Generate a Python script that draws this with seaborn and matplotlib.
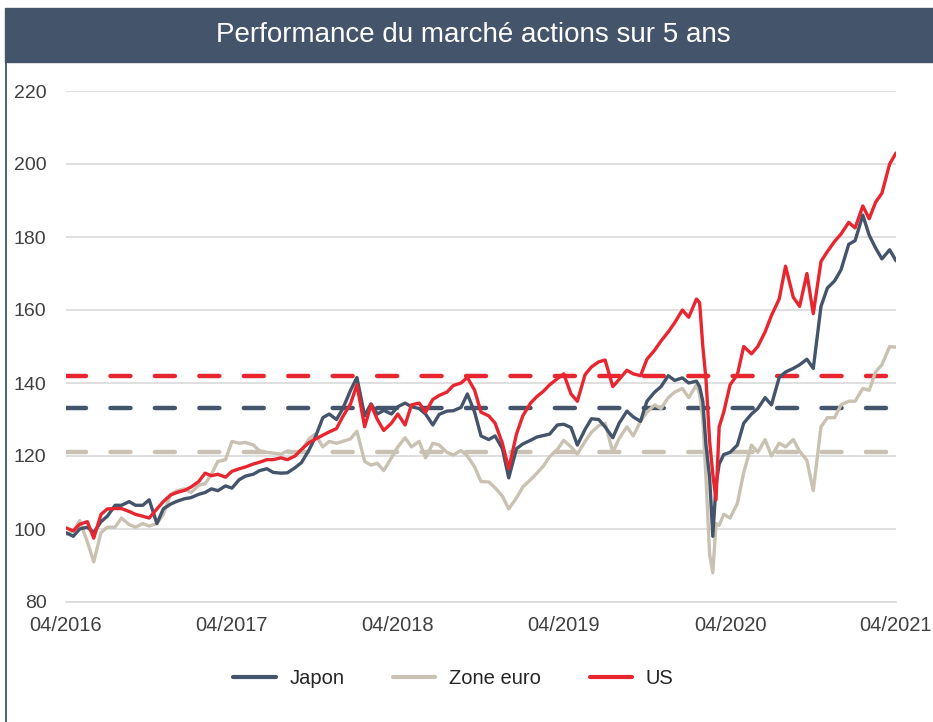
import pandas as pd
import matplotlib.pyplot as plt
import matplotlib.dates as mdates
from matplotlib.patches import Rectangle
from matplotlib.lines import Line2D
import seaborn as sns

# data (index = 100 at start)
dates = [
    # 2016
    "2016-04-15", "2016-05-01", "2016-05-15", "2016-06-01", "2016-06-15", "2016-07-01",
    "2016-07-15", "2016-08-01", "2016-08-15", "2016-09-01", "2016-09-15", "2016-10-01",
    "2016-10-15", "2016-11-01", "2016-11-15", "2016-12-01", "2016-12-15",
    # 2017
    "2017-01-01", "2017-01-15", "2017-02-01", "2017-02-15", "2017-03-01", "2017-03-15",
    "2017-04-01", "2017-04-15", "2017-05-01", "2017-05-15", "2017-06-01", "2017-06-15",
    "2017-07-01", "2017-07-15", "2017-08-01", "2017-08-15", "2017-09-01", "2017-09-15",
    "2017-10-01", "2017-10-15", "2017-11-01", "2017-11-15", "2017-12-01", "2017-12-15",
    # 2018
    "2018-01-01", "2018-01-15", "2018-02-01", "2018-02-15", "2018-03-01", "2018-03-15",
    "2018-04-01", "2018-04-15", "2018-05-01", "2018-05-15", "2018-06-01", "2018-06-15",
    "2018-07-01", "2018-07-15", "2018-08-01", "2018-08-15", "2018-09-01", "2018-09-15",
    "2018-10-01", "2018-10-15", "2018-11-01", "2018-11-15", "2018-12-01", "2018-12-15",
    # 2019
    "2019-01-01", "2019-01-15", "2019-02-01", "2019-02-15", "2019-03-01", "2019-03-15",
    "2019-04-01", "2019-04-15", "2019-05-01", "2019-05-15", "2019-06-01", "2019-06-15",
    "2019-07-01", "2019-07-15", "2019-08-01", "2019-08-15", "2019-09-01", "2019-09-15",
    "2019-10-01", "2019-10-15", "2019-11-01", "2019-11-15", "2019-12-01", "2019-12-15",
    # 2020
    "2020-01-01", "2020-01-15", "2020-02-01", "2020-02-08", "2020-02-15", "2020-02-22",
    "2020-03-01", "2020-03-08", "2020-03-15", "2020-03-22", "2020-04-01", "2020-04-15",
    "2020-05-01", "2020-05-15", "2020-06-01", "2020-06-15", "2020-07-01", "2020-07-15",
    "2020-08-01", "2020-08-15", "2020-09-01", "2020-09-15", "2020-10-01", "2020-10-15",
    "2020-11-01", "2020-11-15", "2020-12-01", "2020-12-15",
    # 2021
    "2021-01-01", "2021-01-15", "2021-02-01", "2021-02-15", "2021-03-01", "2021-03-15",
    "2021-04-01", "2021-04-15",
]

japon = [
    99, 98, 100, 100.5, 99, 102, 103.5, 106.5, 106.5, 107.5, 106.5, 106.5,
    108, 101.5, 105.5, 106.8, 107.6,
    108.3, 108.6, 109.5, 110, 111, 110.5, 111.8, 111.2, 113.5, 114.5, 115, 116,
    116.5, 115.5, 115.3, 115.4, 116.8, 118.2, 121.5, 125, 130.5, 131.5, 130, 133,
    138, 141.5, 131, 134.3, 131.5, 132.5, 131.5, 133.5, 134.5, 133.5, 133, 131.5,
    128.5, 131.4, 132.3, 132.4, 133.3, 137, 132, 125.5, 124.5, 125.5, 122, 114,
    122, 123.3, 124.3, 125.2, 125.6, 126, 128.5, 128.7, 127.8, 123, 127.3, 130.2,
    130, 128, 125, 129, 132.3, 130.7, 129.5, 135, 137.5, 139, 142, 140.7,
    141.4, 140, 140.5, 139, 135, 123, 114, 98, 112, 117.8, 120.4, 121,
    123, 129, 131.5, 133, 136, 134, 141.5, 143, 144, 145, 146.5, 144,
    161, 166, 168, 171,
    178, 179, 186, 180.5, 177, 174, 176.5, 173.5,
]

zone_euro = [
    98.5, 99.4, 102.3, 96.5, 91, 99, 100.5, 100.5, 103, 101.2, 100.5, 101.5,
    100.8, 101.5, 104, 109.5, 110.5,
    111, 110, 112, 112.4, 115, 118.5, 119, 124, 123.5, 123.7, 123, 121.4,
    121, 120.8, 120.5, 121.4, 121, 121.4, 124.6, 126, 122.5, 124, 123.5, 124,
    124.7, 126.8, 118.5, 117.5, 118, 116, 119.5, 122.5, 125, 122.5, 124, 119.5,
    123.5, 123, 121, 120.3, 121.5, 120, 117, 113, 112.9, 111.3, 109, 105.5,
    108.5, 111.5, 113.5, 115.3, 117.2, 119.8, 121.8, 124.3, 122.5, 120.5, 124, 126.5,
    128.3, 129, 121, 124.8, 128, 125.5, 129.5, 132, 134, 133, 136, 137.5,
    138.5, 136, 139.5, 137, 130, 114, 93, 88, 101.5, 101, 104, 103,
    107, 115.5, 123, 121, 124.5, 120, 123.5, 122.5, 124.5, 121.3, 118.8, 110.5,
    128, 130.5, 130.5, 134,
    135, 135, 138.5, 138, 143, 145, 150, 149.8,
]

us = [
    100.3, 99.5, 101.3, 102, 97.5, 104, 105.5, 105.6, 105.6, 104.8, 104, 103.5,
    103, 105.5, 107.5, 109.3, 110,
    110.6, 111.5, 113, 115.3, 114.6, 115, 114.2, 115.8, 116.5, 117, 117.8, 118.3,
    119, 119, 119.5, 119, 120, 121.8, 123.6, 124.6, 125.7, 126.6, 127.5, 130.8,
    134.3, 139.5, 128, 134, 130, 127, 129, 131.5, 128.5, 134, 134.5, 132,
    135.5, 136.6, 137.5, 139.3, 140, 141.5, 138, 132, 131, 129, 123.5, 116.5,
    126, 131, 134.5, 136.3, 137.7, 139.5, 141.2, 142.5, 137, 135, 142.3, 144.4,
    145.8, 146.3, 139, 141, 143.5, 142.5, 142, 146.5, 149, 151.5, 154, 156.5,
    160, 158, 163, 162, 150, 141, 124, 115, 108, 128, 132, 139.5,
    142.3, 150, 148, 150, 154, 158.5, 163, 172, 163.5, 161, 170, 159,
    173.3, 176, 178.8, 180.8,
    184, 182.5, 188.5, 185, 189.5, 192, 200, 203,
]

# average level over the period (dashed lines)
averages = {"Japon": 133.2, "Zone euro": 121.0, "US": 141.9}

series_names = ["Japon", "Zone euro", "US"]
colors = {"Japon": "#44546A", "Zone euro": "#C9C1B1", "US": "#E8262F"}
header_color = "#44546A"

year_ticks = ["2016-04-15", "2017-04-15", "2018-04-15", "2019-04-15", "2020-04-15", "2021-04-15"]
y_ticks = [80, 100, 120, 140, 160, 180, 200, 220]

# long table for seaborn
df = pd.DataFrame({
    "date": pd.to_datetime(dates * 3),
    "value": japon + zone_euro + us,
    "series": ["Japon"] * len(dates) + ["Zone euro"] * len(dates) + ["US"] * len(dates),
})

sns.set_style("white")
plt.rcParams["font.family"] = ["Liberation Sans", "DejaVu Sans"]

fig = plt.figure(figsize=(9.33, 7.22), dpi=100)
ax = fig.add_axes([66 / 933, 120 / 722, 830 / 933, 511 / 722])

# header band + left border
fig.patches.append(Rectangle((5 / 933, (722 - 62) / 722), 1, 54 / 722,
                             transform=fig.transFigure, color=header_color, zorder=0))
fig.lines.append(Line2D([6 / 933, 6 / 933], [0, (722 - 62) / 722],
                        transform=fig.transFigure, color=header_color, lw=1.3))
fig.text(0.507, 1 - 35 / 722, "Performance du marché actions sur 5 ans",
         ha="center", va="center", color="white", fontsize=20)

x0, x1 = pd.Timestamp(year_ticks[0]), pd.Timestamp(year_ticks[-1])

# dashed average lines
for name in ["Zone euro", "Japon", "US"]:
    ax.plot([x0, pd.Timestamp("2021-04-01")], [averages[name]] * 2, color=colors[name],
            lw=3.2, dashes=(4.5, 5.5), dash_capstyle="round", zorder=2)

sns.lineplot(data=df, x="date", y="value", hue="series",
             hue_order=["Zone euro", "Japon", "US"], palette=colors,
             linewidth=2.4, legend=False, ax=ax, zorder=3)

ax.set_xlim(x0, x1)
ax.set_ylim(80, 220)
ax.set_yticks(y_ticks)
ax.set_xticks(pd.to_datetime(year_ticks))
ax.xaxis.set_major_formatter(mdates.DateFormatter("%m/%Y"))
ax.set_xlabel("")
ax.set_ylabel("")

ax.grid(axis="y", color="#D9D9D9", lw=1.2)
ax.set_axisbelow(True)
for s in ["top", "right", "left"]:
    ax.spines[s].set_visible(False)
ax.spines["bottom"].set_color("#D9D9D9")
ax.spines["bottom"].set_linewidth(1.2)
ax.tick_params(axis="y", length=0, pad=14, labelsize=14, labelcolor="#404040")
ax.tick_params(axis="x", length=5, width=1.2, color="#D9D9D9", direction="out",
               pad=5, labelsize=14.5, labelcolor="#404040")

handles = [Line2D([0], [0], color=colors[n], lw=3) for n in series_names]
fig.legend(handles, series_names, loc="center", bbox_to_anchor=(0.486, 1 - 679 / 722),
           ncol=3, frameon=False, fontsize=14.5, handlelength=2.1, handletextpad=0.7,
           columnspacing=2.4, labelcolor="#262626")

fig.savefig("out.png", dpi=100)
